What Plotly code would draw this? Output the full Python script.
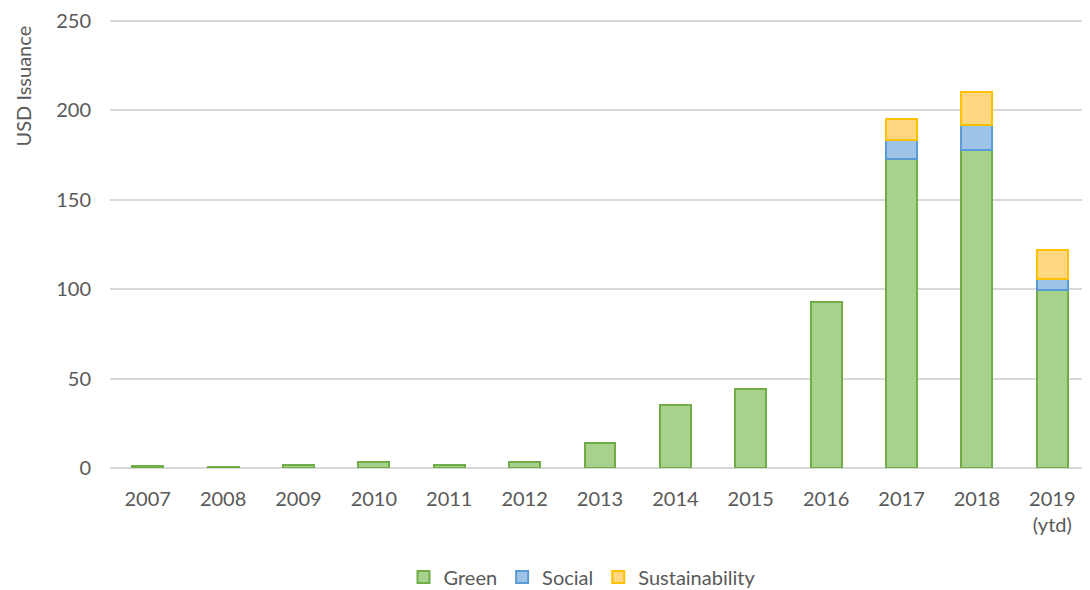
import plotly.graph_objects as go

years = ["2007", "2008", "2009", "2010", "2011", "2012", "2013", "2014",
         "2015", "2016", "2017", "2018", "2019<br>(ytd)"]
green = [1.0, 0.5, 1.5, 3.5, 1.5, 3.5, 14, 35.5, 44, 93, 172.5, 178, 99.5]
social = [None, None, None, None, None, None, None, None, None, None, 11, 13.5, 6]
sustainability = [None, None, None, None, None, None, None, None, None, None, 11.5, 18.5, 16.5]

font_family = "Lato, Open Sans, sans-serif"
txt = "#595959"

fig = go.Figure()
fig.add_trace(go.Bar(x=years, y=green, name="Green",
                     marker=dict(color="#a9d18e", line=dict(color="#70ad47", width=2))))
fig.add_trace(go.Bar(x=years, y=social, name="Social",
                     marker=dict(color="#9dc3e6", line=dict(color="#5b9bd5", width=2))))
fig.add_trace(go.Bar(x=years, y=sustainability, name="Sustainability",
                     marker=dict(color="#ffd780", line=dict(color="#ffc000", width=2))))

fig.update_layout(
    barmode="stack",
    bargap=0.59,
    width=1082, height=582,
    margin=dict(l=102, r=0, t=6, b=122),
    paper_bgcolor="white", plot_bgcolor="white",
    font=dict(family=font_family, size=20, color=txt),
    showlegend=True,
    legend=dict(orientation="h", xref="container", yref="container",
                x=0.5305, y=0.0223, xanchor="center", yanchor="middle",
                font=dict(size=20, color=txt), itemwidth=30,
                traceorder="normal"),
    annotations=[dict(text="USD Issuance", textangle=-90, xref="paper", yref="paper",
                      x=0, y=1, xanchor="center", yanchor="top", xshift=-88, yshift=-5,
                      showarrow=False, font=dict(size=20, color=txt))],
)
fig.update_yaxes(range=[0, 251], tickvals=[0, 50, 100, 150, 200, 250], showgrid=True,
                 gridcolor="#d9d9d9", gridwidth=1.5, zeroline=True, zerolinecolor="#d9d9d9",
                 zerolinewidth=1.5, showline=False, ticks="", ticklabelstandoff=18,
                 ticklabeloverflow="allow", tickfont=dict(size=20, color=txt))
fig.update_xaxes(showgrid=False, showline=False, ticks="", ticklabelstandoff=17,
                 tickfont=dict(size=20, color=txt), tickangle=0)

fig.write_html("out.html")
